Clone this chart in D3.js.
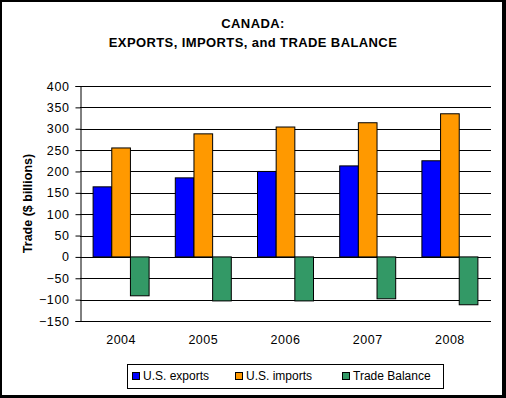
<!DOCTYPE html>
<html>
<head>
<meta charset="utf-8">
<script src="https://cdn.jsdelivr.net/npm/d3@7"></script>
<style>
  body { margin: 0; background: #fff; }
  svg text { font-family: Arial, "Liberation Sans", sans-serif; }
</style>
</head>
<body>
<svg></svg>
<script>
var years = ["2004", "2005", "2006", "2007", "2008"];
var seriesNames = ["U.S. exports", "U.S. imports", "Trade Balance"];
var exportsVals = [164, 185, 200, 213, 225];
var importsVals = [255, 288, 304, 314, 335];
var balanceVals = [-91, -103, -103, -98, -112];
var yTicks = [400, 350, 300, 250, 200, 150, 100, 50, 0, -50, -100, -150];
var colors = ["#0000ff", "#ff9900", "#339966"];

var screen = {width: 506, height: 398};
var plot = {left: 80, right: 491, top: 86, bottom: 321};

var svg = d3.select("svg")
  .attr("width", screen.width)
  .attr("height", screen.height);

// outer frame (shadow style: thicker on right/bottom)
svg.append("rect").attr("x", 0).attr("y", 0).attr("width", screen.width).attr("height", screen.height).attr("fill", "#000");
svg.append("rect").attr("x", 2).attr("y", 2).attr("width", screen.width - 6).attr("height", screen.height - 5).attr("fill", "#fff");

var table = years.map(function(y, i) {
  return {year: y, vals: [exportsVals[i], importsVals[i], balanceVals[i]]};
});

var xScale = d3.scaleBand().domain(years).range([plot.left, plot.right]).paddingInner(0).paddingOuter(0);
var groupW = 56;
var xInner = d3.scaleBand().domain(seriesNames).range([0, groupW]).padding(0);
var yScale = d3.scaleLinear().domain([-150, 400]).range([plot.bottom, plot.top]);

// gridlines
svg.append("g")
  .selectAll("line")
  .data(yTicks)
  .enter()
  .append("line")
  .attr("x1", plot.left)
  .attr("x2", plot.right)
  .attr("y1", function(d) { return Math.round(yScale(d)) + 0.5; })
  .attr("y2", function(d) { return Math.round(yScale(d)) + 0.5; })
  .attr("stroke", "#000")
  .attr("stroke-width", 1);

// bars
var groups = svg.append("g")
  .selectAll("g")
  .data(table)
  .enter()
  .append("g")
  .attr("transform", function(d) {
    return "translate(" + (xScale(d.year) + (xScale.bandwidth() - groupW) / 2) + ",0)";
  });

groups.selectAll("rect")
  .data(function(d) { return d.vals.map(function(v, i) { return {name: seriesNames[i], v: v, i: i}; }); })
  .enter()
  .append("rect")
  .attr("x", function(d) { return xInner(d.name); })
  .attr("width", xInner.bandwidth())
  .attr("y", function(d) { return yScale(Math.max(0, d.v)); })
  .attr("height", function(d) { return Math.abs(yScale(d.v) - yScale(0)); })
  .attr("fill", function(d) { return colors[d.i]; })
  .attr("stroke", "#000")
  .attr("stroke-width", 1);

// y axis
var yAxis = d3.axisLeft(yScale).tickValues(yTicks).tickSize(5).tickPadding(6);
var yg = svg.append("g")
  .attr("transform", "translate(" + (plot.left + 0.5) + ",0)")
  .call(yAxis);
yg.select(".domain").attr("stroke", "#000");
yg.selectAll("text").attr("font-size", 12.5).attr("letter-spacing", 0.6)
  .attr("font-family", "Arial, 'Liberation Sans', sans-serif").attr("fill", "#000");

// x labels
var xAxis = d3.axisBottom(xScale).tickSize(0).tickPadding(14);
var xg = svg.append("g")
  .attr("transform", "translate(0," + plot.bottom + ")")
  .call(xAxis);
xg.select(".domain").remove();
xg.selectAll("text").attr("font-size", 12.5).attr("letter-spacing", 0.5)
  .attr("font-family", "Arial, 'Liberation Sans', sans-serif").attr("fill", "#000");

// y title
svg.append("text")
  .attr("transform", "translate(32," + ((plot.top + plot.bottom) / 2) + ") rotate(-90)")
  .attr("text-anchor", "middle")
  .attr("font-size", 12.5)
  .attr("font-weight", "bold")
  .text("Trade ($ billions)");

// title
svg.append("text").attr("x", 253).attr("y", 28).attr("text-anchor", "middle")
  .attr("font-size", 13).attr("letter-spacing", 0.4).attr("font-weight", "bold").text("CANADA:");
svg.append("text").attr("x", 253).attr("y", 47).attr("text-anchor", "middle")
  .attr("font-size", 13).attr("letter-spacing", 0.4).attr("font-weight", "bold").text("EXPORTS, IMPORTS, and TRADE BALANCE");

// legend
var legend = svg.append("g");
legend.append("rect").attr("x", 127.5).attr("y", 364.5).attr("width", 316).attr("height", 24)
  .attr("fill", "#fff").attr("stroke", "#000");
var legX = [132, 235, 342];
var items = legend.selectAll("g.item")
  .data(seriesNames)
  .enter()
  .append("g")
  .attr("class", "item")
  .attr("transform", function(d, i) { return "translate(" + legX[i] + ",0)"; });
items.append("rect").attr("x", 0.5).attr("y", 372.5).attr("width", 7).attr("height", 7)
  .attr("fill", function(d, i) { return colors[i]; }).attr("stroke", "#000");
items.append("text").attr("x", 11).attr("y", 380).attr("font-size", 12).text(function(d) { return d; });
</script>
</body>
</html>
